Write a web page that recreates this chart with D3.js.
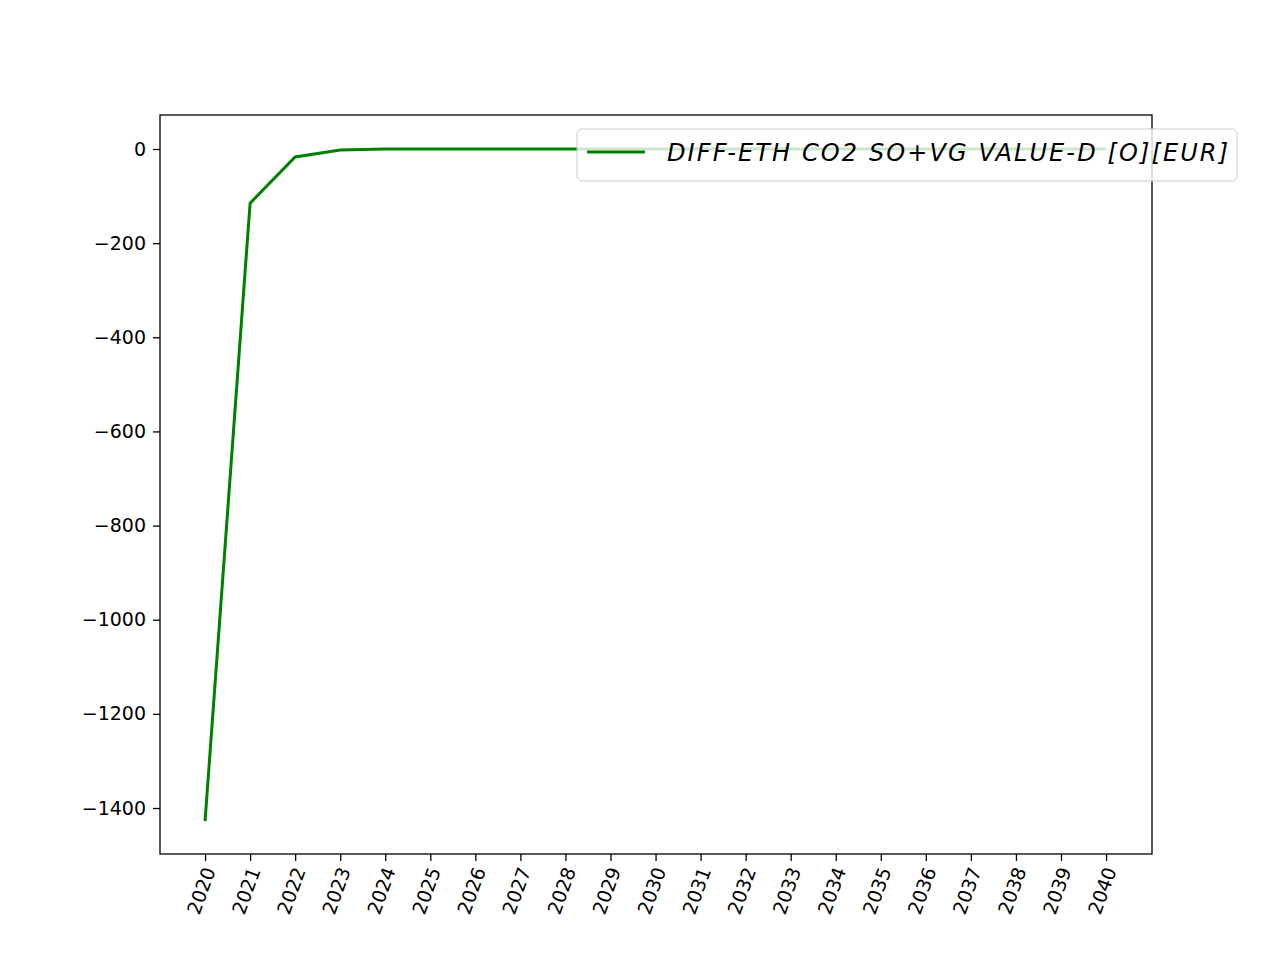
<!DOCTYPE html>
<html>
<head>
<meta charset="utf-8">
<script src="https://cdn.jsdelivr.net/npm/d3@7"></script>
<style>
  body { margin: 0; background: #fff; }
  text { font-family: "DejaVu Sans", sans-serif; }
</style>
</head>
<body>
<svg id="chart"></svg>
<script>
// Data
const years = [2020, 2021, 2022, 2023, 2024, 2025, 2026, 2027, 2028, 2029, 2030,
               2031, 2032, 2033, 2034, 2035, 2036, 2037, 2038, 2039, 2040];
const values = [-1428, -115, -17, -2, 0, 0, 0, 0, 0, 0, 0,
                0, 0, 0, 0, 0, 0, 0, 0, 0, 0];
const yTicks = [0, -200, -400, -600, -800, -1000, -1200, -1400];
const seriesName = "DIFF-ETH CO2 SO+VG VALUE-D [O][EUR]";

const w = 1280, h = 960;
const padLeft = 160, padRight = 1152, padTop = 115, padBottom = 854;

const svg = d3.select("#chart").attr("width", w).attr("height", h);

//Scales
const xScale = d3.scaleLinear().domain([2019, 2041.02]).range([padLeft, padRight]);
const yScale = d3.scaleLinear().domain([-1497.7, 72.2]).range([padBottom, padTop]);

//Line
const line = d3.line().x((d, i) => xScale(years[i])).y(d => yScale(d));
svg.append("path")
   .datum(values)
   .attr("d", line)
   .attr("fill", "none")
   .attr("stroke", "green")
   .attr("stroke-width", 3);

//Axes
const fmt = d => d < 0 ? "\u2212" + Math.abs(d) : "" + d;
const yAxis = d3.axisLeft(yScale).tickValues(yTicks).tickFormat(fmt).tickSize(7).tickPadding(7);
const gy = svg.append("g").attr("transform", "translate(" + padLeft + ",0)").call(yAxis);
gy.selectAll("text").style("font-size", "19px").attr("fill", "#000");

const xAxis = d3.axisBottom(xScale).tickValues(years).tickFormat(d3.format("d")).tickSize(7);
const gx = svg.append("g").attr("transform", "translate(0," + padBottom + ")").call(xAxis);
gx.selectAll("text")
  .style("font-size", "19px")
  .attr("fill", "#000")
  .attr("text-anchor", "end")
  .attr("dy", "0.35em")
  .attr("transform", "translate(4,14) rotate(-70)")
  .attr("x", 0).attr("y", 0);

[gx, gy].forEach(g => {
  g.select(".domain").remove();
  g.selectAll("line").attr("stroke", "#000").attr("stroke-width", 1.3);
});

//Frame
svg.append("rect")
   .attr("x", padLeft).attr("y", padTop)
   .attr("width", padRight - padLeft).attr("height", padBottom - padTop)
   .attr("fill", "none").attr("stroke", "#000").attr("stroke-width", 1.3);

//Legend
const lg = svg.append("g");
lg.append("rect")
  .attr("x", 577).attr("y", 129).attr("width", 660).attr("height", 52).attr("rx", 5)
  .attr("fill", "white").attr("fill-opacity", 0.8).attr("stroke", "#ccc");
lg.append("line")
  .attr("x1", 587).attr("x2", 645).attr("y1", 152).attr("y2", 152)
  .attr("stroke", "green").attr("stroke-width", 3);
lg.append("text")
  .attr("x", 667).attr("y", 161)
  .style("font-size", "24px")
  .style("font-style", "italic")
  .style("font-family", "'Comic Sans MS', 'DejaVu Sans', sans-serif")
  .attr("textLength", 561)
  .text(seriesName);
</script>
</body>
</html>
